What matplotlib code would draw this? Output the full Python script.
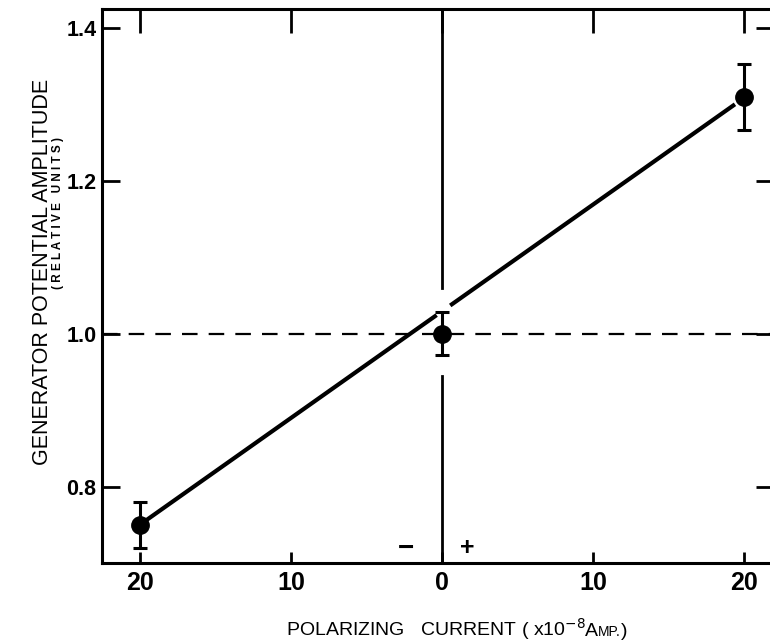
import numpy as np
import matplotlib
matplotlib.use("Agg")
import matplotlib.pyplot as plt
from matplotlib.offsetbox import TextArea, HPacker, AnchoredOffsetbox

# polarizing current, signed (left of zero = "-", right = "+")
current = [-20, 0, 20]
amplitude = [0.75, 1.0, 1.31]
amp_err = [0.03, 0.028, 0.043]

# fitted straight line (end values)
fit_x = [-20, 19.4]
fit_y = [0.75, 1.30]

xticks = [-20, -10, 0, 10, 20]
xtick_labels = ["20", "10", "0", "10", "20"]
yticks = [0.8, 1.0, 1.2, 1.4]
ytick_labels = ["0.8", "1.0", "1.2", "1.4"]

plt.rcParams['font.family'] = ['Liberation Sans', 'DejaVu Sans']

fig = plt.figure(figsize=(7.7, 6.43), dpi=100)
ax = fig.add_axes([0.1325, 0.1244, 0.873, 0.862])

ax.set_xlim(-22.5, 22.0)
ax.set_ylim(0.70, 1.425)

# reference lines
ax.axhline(1.0, color="black", lw=1.6, ls=(0, (7, 5)), zorder=1)
ax.plot([0, 0], [1.425, 1.06], color="black", lw=2, zorder=1)
ax.plot([0, 0], [0.945, 0.70], color="black", lw=2, zorder=1)

# fit line with a small break where it crosses the zero line
fx = np.array(fit_x)
fy = np.array(fit_y)
left_x = [fx[0], -0.35]
right_x = [0.55, fx[1]]
ax.plot(left_x, np.interp(left_x, fx, fy), color="black", lw=3, solid_capstyle="butt", zorder=2)
ax.plot(right_x, np.interp(right_x, fx, fy), color="black", lw=3, solid_capstyle="butt", zorder=2)

ax.errorbar(current, amplitude, yerr=amp_err, fmt="o", color="black",
            markersize=12.5, elinewidth=2.2, capsize=5, capthick=2.2, zorder=3)

ax.text(-2.4, 0.719, "\u2212", fontsize=20, fontweight="bold", ha="center", va="center")
ax.text(1.7, 0.719, "+", fontsize=18, fontweight="bold", ha="center", va="center")

ax.set_xticks(xticks)
ax.set_xticklabels(xtick_labels)
ax.set_yticks(yticks)
ax.set_yticklabels(ytick_labels)
ax.tick_params(axis="both", direction="in", width=2)
ax.tick_params(axis="x", length=8, top=True, labelsize=18, pad=6)
ax.tick_params(axis="y", length=13, right=True, labelsize=15.5, pad=4)
for lab in ax.get_xticklabels() + ax.get_yticklabels():
    lab.set_fontweight("bold")
# longer ticks along top edge
for t in ax.xaxis.get_major_ticks():
    t.tick2line.set_markersize(17)

for s in ["left", "bottom", "top"]:
    ax.spines[s].set_linewidth(2.2)
ax.spines["right"].set_visible(False)

# y axis titles
fig.text(0.055, 0.577, "GENERATOR POTENTIAL AMPLITUDE", rotation=90,
         ha="center", va="center", fontsize=15.5)
fig.text(0.075, 0.668, "( R E L A T I V E   U N I T S )", rotation=90,
         ha="center", va="center", fontsize=8.5, fontweight="bold")

# x axis title with superscript and small caps
parts = HPacker(children=[
    TextArea("POLARIZING   CURRENT ( x10$^{-8}$", textprops=dict(fontsize=14)),
    TextArea("A", textprops=dict(fontsize=14)),
    TextArea("MP.", textprops=dict(fontsize=10)),
    TextArea(")", textprops=dict(fontsize=14)),
], align="baseline", pad=0, sep=0)
box = AnchoredOffsetbox(loc="center", child=parts, frameon=False,
                        bbox_to_anchor=(0.593, 0.022), bbox_transform=fig.transFigure,
                        borderpad=0, pad=0)
fig.add_artist(box)

fig.savefig("out.png", dpi=100)
